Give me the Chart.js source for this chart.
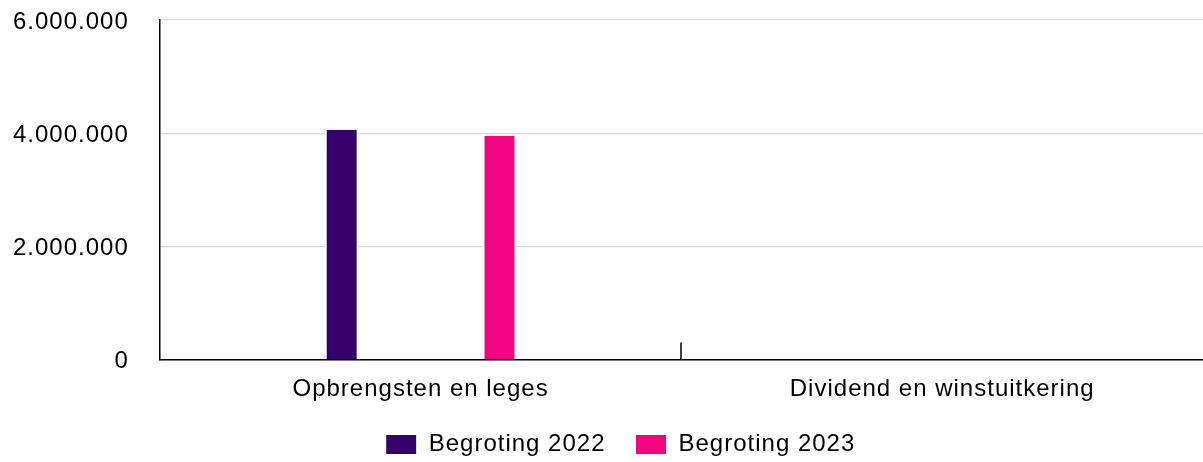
<!DOCTYPE html>
<html>
<head>
<meta charset="utf-8">
<script src="https://cdn.jsdelivr.net/npm/chart.js@4"></script>
<style>
  body { margin: 0; background: #fff; }
  #wrap { width: 1203px; height: 462px; }
</style>
</head>
<body>
<div id="wrap"><canvas id="chart"></canvas></div>
<script>
// categories and budget figures
const categories = ['Opbrengsten en leges', 'Dividend en winstuitkering'];
const begroting2022 = [4060000, 0];
const begroting2023 = [3950000, 0];
const yTicks = [0, 2000000, 4000000, 6000000];

// 6000000 -> "6.000.000"
function fmt(n) {
  return String(n).replace(/\B(?=(\d{3})+(?!\d))/g, '.');
}

// canvas text gets a bit of extra tracking
const tracking = {
  id: 'tracking',
  beforeLayout(chart) { chart.ctx.letterSpacing = '1px'; },
  beforeDraw(chart) { chart.ctx.letterSpacing = '1px'; }
};

// legend centred a bit right of the canvas middle
const legendShift = {
  id: 'legendShift',
  afterLayout(chart) {
    chart.legend.left += 12;
    chart.legend.right += 12;
  }
};

// short upward tick on the x axis between two categories
const categoryTicks = {
  id: 'categoryTicks',
  afterDatasetsDraw(chart) {
    const x = chart.scales.x;
    const ctx = chart.ctx;
    ctx.save();
    ctx.strokeStyle = '#000';
    ctx.lineWidth = 1.5;
    for (let i = 1; i < categories.length; i++) {
      const px = Math.round((x.getPixelForValue(i - 1) + x.getPixelForValue(i)) / 2);
      ctx.beginPath();
      ctx.moveTo(px, chart.chartArea.bottom);
      ctx.lineTo(px, chart.chartArea.bottom - 17);
      ctx.stroke();
    }
    ctx.restore();
  }
};

Chart.defaults.font.family = '"Liberation Sans", Arial, sans-serif';
Chart.defaults.font.size = 24;
Chart.defaults.color = '#000';

new Chart(document.getElementById('chart'), {
  type: 'bar',
  data: {
    labels: categories,
    datasets: [
      {
        label: 'Begroting 2022',
        data: begroting2022,
        backgroundColor: '#36006b',
        borderColor: '#fff',
        borderWidth: { left: 2, right: 2, top: 0, bottom: 0 }
      },
      {
        label: 'Begroting 2023',
        data: begroting2023,
        backgroundColor: '#f0047f',
        borderColor: '#fff',
        borderWidth: { left: 2, right: 2, top: 0, bottom: 0 }
      }
    ]
  },
  options: {
    responsive: true,
    maintainAspectRatio: false,
    animation: false,
    categoryPercentage: 0.605,
    barPercentage: 0.215,
    layout: { padding: { top: 20, left: 12, right: -2, bottom: -4.5 } },
    plugins: {
      legend: {
        position: 'bottom',
        labels: {
          boxWidth: 31,
          boxHeight: 20,
          padding: 30
        }
      },
      tooltip: { enabled: false }
    },
    scales: {
      x: {
        grid: {
          drawOnChartArea: false,
          tickLength: 17.1,
          tickColor: 'transparent'
        },
        border: { color: '#000', width: 1.5 },
        ticks: { padding: -1.5 }
      },
      y: {
        min: 0,
        max: 6000000,
        afterBuildTicks(scale) {
          scale.ticks = yTicks.map(v => ({ value: v }));
        },
        grid: { color: '#d9d9d9', lineWidth: 1.3, tickLength: 30, tickColor: 'transparent' },
        border: { color: '#000', width: 1.5 },
        ticks: { padding: 1, labelOffset: 2, callback: v => fmt(v) }
      }
    }
  },
  plugins: [tracking, legendShift, categoryTicks]
});
</script>
</body>
</html>
